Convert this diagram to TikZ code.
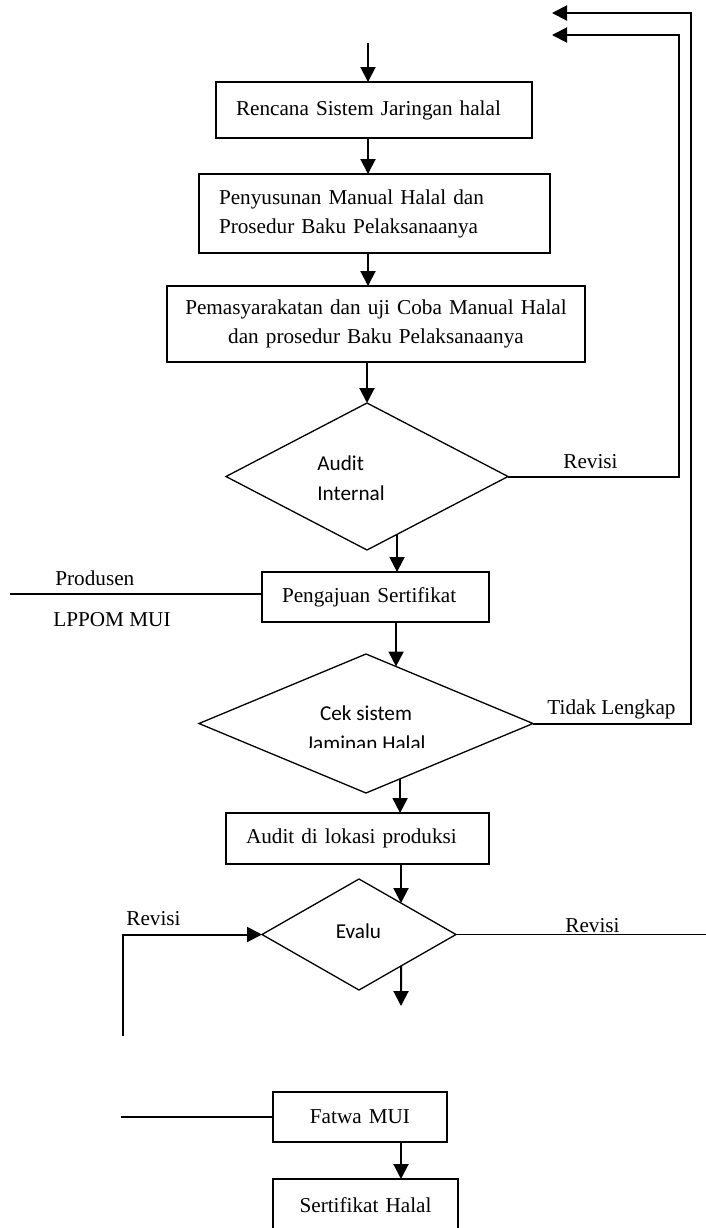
\documentclass[tikz,border=0pt]{standalone}
\usepackage{fontspec}
\setmainfont{Liberation Serif}
\newfontfamily\calibri{Carlito}
\usetikzlibrary{shapes.geometric,arrows.meta,calc}

\begin{document}
\begin{tikzpicture}[x=0.5pt,y=-0.5pt,
  font=\fontsize{10.6pt}{14.5pt}\selectfont,
  kotak/.style={draw,line width=0.65pt,inner xsep=10pt,inner ysep=0pt,outer sep=0pt,align=left},
  belah/.style={draw,shape=diamond,line width=0.65pt,inner sep=0pt,outer sep=0pt},
  tulis/.style={font=\calibri\fontsize{10.6pt}{15pt}\selectfont,inner sep=0pt},
  ket/.style={inner sep=0pt,anchor=base west},
  panah/.style={line width=1pt,-{Triangle[length=7.5pt,width=7.5pt]}},
  garis/.style={line width=0.65pt}]

\useasboundingbox (0,0) rectangle (706,1228);
\clip (0,0) rectangle (706,1228);

\node[kotak,text width=138pt,minimum height=28pt] (b1) at (374,110) {Rencana Sistem Jaringan halal};
\node[kotak,text width=155.5pt,minimum height=39.5pt] (b2) at (374.5,213.5) {Penyusunan Manual Halal dan\\Prosedur Baku Pelaksanaanya};
\node[kotak,text width=200pt,inner xsep=4.5pt,minimum height=38pt,align=center] (b3) at (376,324) {Pemasyarakatan dan uji Coba Manual Halal\\dan prosedur Baku Pelaksanaanya};

\node[belah,minimum width=141pt,minimum height=73.5pt] (ai) at (367,476.5) {};
\node[tulis,align=left,anchor=north west] (ait) at (317,455) {Audit\\Internal};

\node[kotak,text width=93.5pt,minimum height=25pt] (pa) at (375.5,597) {Pengajuan Sertifikat};

\node[belah,minimum width=167pt,minimum height=69.5pt] (ck) at (366,723.5) {};
\begin{scope}
\clip (280,690) rectangle (450,747);
\node[tulis,align=center,anchor=north] (ckt) at (366,705) {Cek sistem\\Jaminan Halal};
\end{scope}

\node[kotak,text width=111.5pt,minimum height=25.5pt] (al) at (357.5,838.5) {Audit di lokasi produksi};

\node[belah,minimum width=97pt,minimum height=55.5pt] (ev) at (359,934.5) {};
\node[tulis] (evt) at (358.5,931) {Evalu};

\node[kotak,text width=67pt,minimum height=25pt,align=center] (fw) at (360,1117) {Fatwa MUI};
\node[kotak,text width=72.5pt,minimum height=26pt,align=center] (sh) at (365.5,1205) {Sertifikat Halal};

\node[ket] (rv1t) at (563,468) {Revisi};
\node[ket] (tlt) at (547,714) {Tidak Lengkap};
\node[ket] (prt) at (55,585) {Produsen};
\node[ket] (lpt) at (53,626) {LPPOM MUI};
\node[ket] (rvlt) at (126,925) {Revisi};
\node[ket] (rvrt) at (565,932) {Revisi};

\coordinate (mulai) at (368,43);
\coordinate (sudut1) at (679,35);
\coordinate (balik1) at (552,35);
\coordinate (sudut2) at (691,13);
\coordinate (balik2) at (552,13);
\coordinate (prod) at (10,594);
\coordinate (rvl) at (123,1036);
\coordinate (rvr) at (706,934.5);
\coordinate (evb) at (401,1006);
\coordinate (fwl) at (121,1117);
\coordinate (ai out) at ($(ai.south)!.213!(ai.east)$);
\coordinate (ck in) at ($(ck.north)!.18!(ck.east)$);
\coordinate (ck out) at ($(ck.south)!.204!(ck.east)$);
\coordinate (ev in) at ($(ev.north)!.433!(ev.east)$);
\coordinate (ev out) at ($(ev.south)!.433!(ev.east)$);

\draw[panah] (mulai) -- (mulai |- b1.north);
\draw[panah] (b1.south -| mulai) -- (b2.north -| mulai);
\draw[panah] (b2.south -| mulai) -- (b3.north -| mulai);
\draw[panah] (ai.north |- b3.south) -- (ai.north);
\draw[panah] (ai.east) -| (sudut1) -- (balik1);
\draw[panah] (ai out) -- (ai out |- pa.north);
\draw[garis] (prod) -- (prod -| pa.west);
\draw[panah] (pa.south -| ck in) -- (ck in);
\draw[panah] (ck.east) -| (sudut2) -- (balik2);
\draw[panah] (ck out) -- (ck out |- al.north);
\draw[panah] (al.south -| ev in) -- (ev in);
\draw[panah] (rvl) |- (ev.west);
\draw[garis] (ev.east) -- (rvr);
\draw[panah] (ev out) -- (evb);
\draw[garis] (fwl) -- (fwl -| fw.west);
\draw[panah] (fw.south -| evb) -- (sh.north -| evb);

\end{tikzpicture}
\end{document}
